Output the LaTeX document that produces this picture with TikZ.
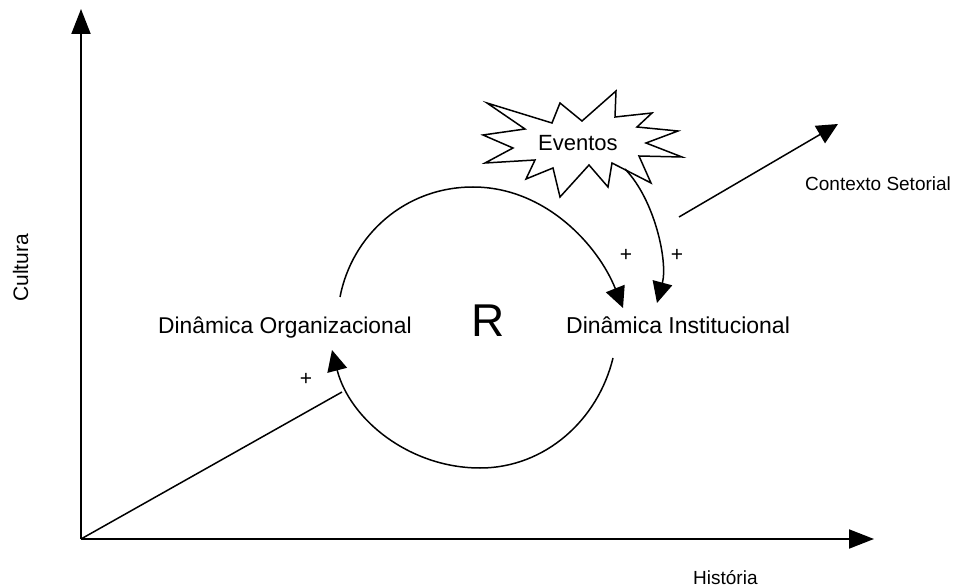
\documentclass[tikz,border=0pt]{standalone}
\usepackage{fontspec}
\setmainfont{Liberation Sans}
\usetikzlibrary{arrows.meta}
\begin{document}
\begin{tikzpicture}[x=1pt,y=-1pt,
  axis/.style={line width=2pt,-{Triangle[length=25pt,width=19pt]}},
  link/.style={line width=1.5pt,-{Triangle[length=21pt,width=20pt]}},
  plainline/.style={line width=1.5pt},
  lbl/.style={inner sep=0pt,anchor=base west},
  sign/.style={inner sep=0pt,font=\fontsize{21}{23}\selectfont\rmfamily},
  burst/.style={line width=1.5pt,line join=miter,fill=white}]
\useasboundingbox (0,0) rectangle (954,588);

% axes
\coordinate (O) at (81,539);
\coordinate (ytop) at (81,9);
\coordinate (xend) at (874,539);
\draw[axis] (O) -- (ytop);
\draw[axis] (O) -- (xend);
\node[lbl,rotate=90] (cultura) at (28,302) {\fontsize{21}{24}\selectfont Cultura};
\node[lbl] (historia) at (693,584) {\fontsize{19}{22}\selectfont História};

% labels of the loop
\node[lbl] (org) at (158,334) {\fontsize{22.8}{26}\selectfont Dinâmica Organizacional};
\node[lbl] (inst) at (566,334) {\fontsize{23}{26}\selectfont Dinâmica Institucional};
\node[lbl] (R) at (471,337) {\fontsize{46}{50}\selectfont R};

% end points of the connectors
\coordinate (orgTop) at (340,297);
\coordinate (instIn) at (623,308);
\coordinate (instBot) at (613,358);
\coordinate (orgIn) at (332,350);
\coordinate (diagEnd) at (342,392);
\coordinate (evOut) at (625,169);
\coordinate (evIn) at (657,303);
\coordinate (ctxFrom) at (679,217);
\coordinate (ctxTo) at (838,124);

% reinforcing loop
\draw[link] (orgTop) .. controls (352,235) and (405,187) .. (473,187)
            .. controls (545,187) and (598,245) .. (instIn);
\draw[link] (instBot) .. controls (598,420) and (545,468) .. (480,468)
            .. controls (410,468) and (350,420) .. (orgIn);

% history line into the organisational dynamics
\draw[plainline] (O) -- (diagEnd);
\node[sign] (p1) at (306,379) {+};

% events burst
\draw[burst] (487,103) -- (552,123) -- (560,103) -- (582,121) -- (616,91)
  -- (615,117) -- (652,113) -- (637,127) -- (678,131) -- (646,143)
  -- (682,157) -- (639,156) -- (651,183) -- (612,163) -- (608,187)
  -- (589,165) -- (560,197) -- (553,168) -- (526,179) -- (535,160)
  -- (485,163) -- (513,148) -- (483,135) -- (525,129) -- cycle;
\node[lbl] (ev) at (538,151) {\fontsize{22}{25}\selectfont Eventos};

\draw[link] (evOut) .. controls (655,200) and (668,262) .. (evIn);
\node[sign] (p2) at (626,255) {+};
\node[sign] (p3) at (677,255) {+};

% sector context
\draw[link] (ctxFrom) -- (ctxTo);
\node[lbl] (ctx) at (805,191) {\fontsize{19}{22}\selectfont Contexto Setorial};
\end{tikzpicture}
\end{document}
